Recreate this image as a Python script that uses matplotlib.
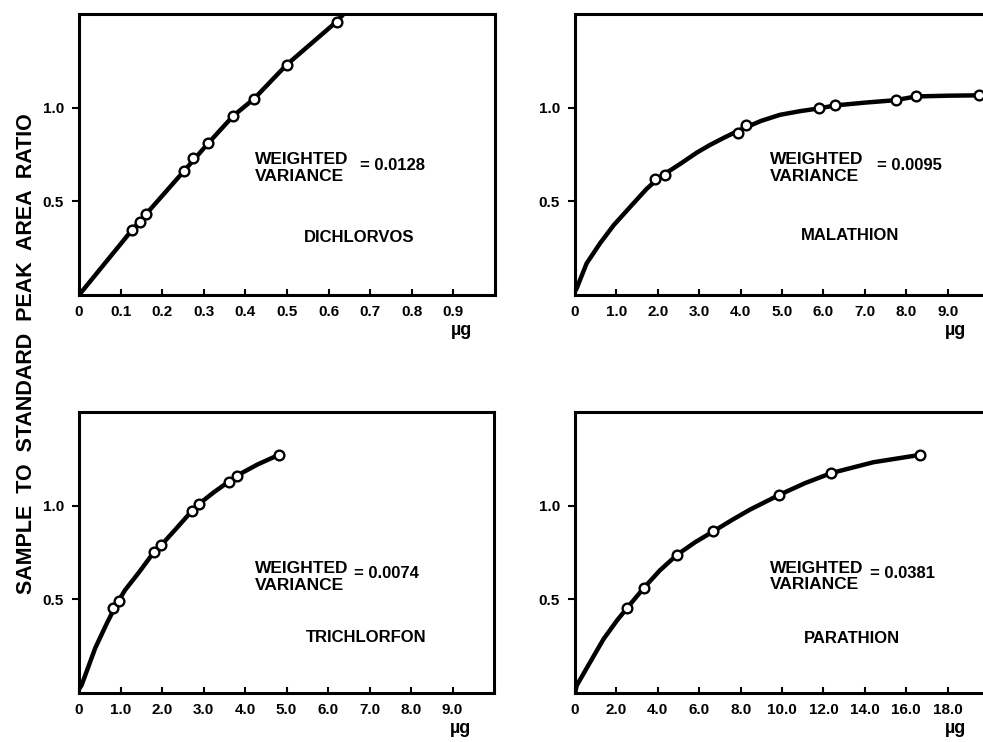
import matplotlib
matplotlib.use("Agg")
from matplotlib import pyplot as plt
import numpy as np

plt.rcParams['font.family'] = ['Liberation Sans', 'DejaVu Sans']
plt.rcParams['font.weight'] = 'bold'

# ---- data ----
# DICHLORVOS
dich_pts_x = [0.127, 0.146, 0.162, 0.252, 0.274, 0.310, 0.371, 0.421, 0.499, 0.619]
dich_pts_y = [0.346, 0.390, 0.434, 0.661, 0.729, 0.809, 0.957, 1.048, 1.229, 1.459]
dich_curve_x = [0.0, 0.127, 0.162, 0.252, 0.310, 0.371, 0.421, 0.499, 0.619, 0.636]
dich_curve_y = [0.0, 0.346, 0.434, 0.661, 0.809, 0.957, 1.048, 1.229, 1.459, 1.50]

# MALATHION
mala_pts_x = [1.93, 2.17, 3.93, 4.12, 5.89, 6.28, 7.74, 8.23, 9.75]
mala_pts_y = [0.617, 0.642, 0.863, 0.906, 0.996, 1.012, 1.040, 1.060, 1.066]
mala_curve_x = [0.0, 0.04, 0.28, 0.60, 0.93, 1.33, 1.73, 2.05, 2.54, 2.94, 3.25, 3.60,
                4.02, 4.50, 4.95, 5.45, 5.89, 6.28, 7.00, 7.74, 8.23, 9.00, 9.75, 10.0]
mala_curve_y = [0.02, 0.036, 0.169, 0.275, 0.372, 0.470, 0.567, 0.630, 0.700, 0.760, 0.800, 0.840,
                0.885, 0.930, 0.962, 0.982, 0.996, 1.012, 1.027, 1.040, 1.060, 1.064, 1.066, 1.067]

# TRICHLORFON
tric_pts_x = [0.83, 0.97, 1.81, 1.98, 2.71, 2.90, 3.61, 3.81, 4.81]
tric_pts_y = [0.456, 0.491, 0.754, 0.789, 0.970, 1.011, 1.129, 1.161, 1.271]
tric_curve_x = [0.0, 0.065, 0.39, 0.67, 0.90, 1.11, 1.43, 1.81, 1.98, 2.35, 2.71, 2.90,
                3.25, 3.61, 3.81, 4.30, 4.81]
tric_curve_y = [0.02, 0.044, 0.240, 0.372, 0.473, 0.550, 0.640, 0.754, 0.789, 0.880, 0.970, 1.011,
                1.072, 1.129, 1.161, 1.220, 1.271]

# PARATHION
para_pts_x = [2.53, 3.33, 4.94, 6.68, 9.87, 12.37, 16.65]
para_pts_y = [0.456, 0.562, 0.739, 0.863, 1.058, 1.174, 1.271]
para_curve_x = [0.0, 0.08, 0.72, 1.37, 2.01, 2.53, 3.33, 4.10, 4.94, 5.80, 6.68, 7.60, 8.45,
                9.87, 11.10, 12.37, 14.41, 16.65]
para_curve_y = [0.0, 0.040, 0.163, 0.287, 0.385, 0.456, 0.562, 0.655, 0.739, 0.805, 0.863, 0.925, 0.979,
                1.058, 1.120, 1.174, 1.232, 1.271]

y_ticks = [0.5, 1.0]
y_ticklabels = ['0.5', '1.0']

dich_xticks = [0, 0.1, 0.2, 0.3, 0.4, 0.5, 0.6, 0.7, 0.8, 0.9]
dich_xlabels = ['0', '0.1', '0.2', '0.3', '0.4', '0.5', '0.6', '0.7', '0.8', '0.9']
mala_xticks = [0, 1, 2, 3, 4, 5, 6, 7, 8, 9]
mala_xlabels = ['0', '1.0', '2.0', '3.0', '4.0', '5.0', '6.0', '7.0', '8.0', '9.0']
tric_xticks = [0, 1, 2, 3, 4, 5, 6, 7, 8, 9]
tric_xlabels = ['0', '1.0', '2.0', '3.0', '4.0', '5.0', '6.0', '7.0', '8.0', '9.0']
para_xticks = [0, 2, 4, 6, 8, 10, 12, 14, 16, 18]
para_xlabels = ['0', '2.0', '4.0', '6.0', '8.0', '10.0', '12.0', '14.0', '16.0', '18.0']

panels = [
    # name, variance, rect, xmax, pts, curve, ticks, ticklabels, text positions
    ('DICHLORVOS', '= 0.0128', [0.0804, 0.6024, 0.4232, 0.3787], 1.0,
     (dich_pts_x, dich_pts_y), (dich_curve_x, dich_curve_y), dich_xticks, dich_xlabels,
     (0.423, 0.452), (0.675, 0.46), (0.673, 0.206)),
    ('MALATHION', '= 0.0095', [0.585, 0.6024, 0.4212, 0.3787], 10.0,
     (mala_pts_x, mala_pts_y), (mala_curve_x, mala_curve_y), mala_xticks, mala_xlabels,
     (0.471, 0.452), (0.730, 0.46), (0.664, 0.213)),
    ('TRICHLORFON', '= 0.0074', [0.0804, 0.066, 0.4222, 0.3787], 10.0,
     (tric_pts_x, tric_pts_y), (tric_curve_x, tric_curve_y), tric_xticks, tric_xlabels,
     (0.423, 0.413), (0.663, 0.426), (0.692, 0.199)),
    ('PARATHION', '= 0.0381', [0.585, 0.066, 0.4212, 0.3787], 20.0,
     (para_pts_x, para_pts_y), (para_curve_x, para_curve_y), para_xticks, para_xlabels,
     (0.471, 0.415), (0.713, 0.426), (0.669, 0.195)),
]

fig = plt.figure(figsize=(9.83, 7.42), dpi=100)

for name, var, rect, xmax, pts, curve, xt, xl, wpos, vpos, npos in panels:
    ax = fig.add_axes(rect)
    ax.plot(curve[0], curve[1], color='black', lw=3.2, solid_capstyle='round',
            solid_joinstyle='round', zorder=2)
    ax.plot(pts[0], pts[1], 'o', ms=7, mfc='white', mec='black', mew=1.7, zorder=3)
    ax.set_xlim(0, xmax)
    ax.set_ylim(0, 1.5)
    ax.set_xticks(xt)
    ax.set_xticklabels(xl, fontsize=11, fontweight='bold')
    ax.set_yticks(y_ticks)
    ax.set_yticklabels(y_ticklabels, fontsize=11, fontweight='bold')
    ax.tick_params(axis='x', direction='in', length=4, width=1.5, pad=7)
    ax.tick_params(axis='y', direction='out', length=5, width=1.5, pad=6)
    for s in ax.spines.values():
        s.set_linewidth(2.2)
    ax.text(wpos[0], wpos[1], 'WEIGHTED\nVARIANCE', transform=ax.transAxes,
            ha='left', va='center', fontsize=12.5, fontweight='bold', linespacing=1.1)
    ax.text(vpos[0], vpos[1], var, transform=ax.transAxes,
            ha='left', va='center', fontsize=12, fontweight='bold')
    ax.text(npos[0], npos[1], name, transform=ax.transAxes,
            ha='center', va='center', fontsize=12, fontweight='bold')
    ax.text(0.92, -0.125, 'µg', transform=ax.transAxes,
            ha='center', va='center', fontsize=13, fontweight='bold')

fig.text(0.027, 0.523, 'SAMPLE  TO  STANDARD  PEAK  AREA  RATIO', rotation=90,
         ha='center', va='center', fontsize=15.5, fontweight='bold')

fig.savefig('out.png', dpi=100)
